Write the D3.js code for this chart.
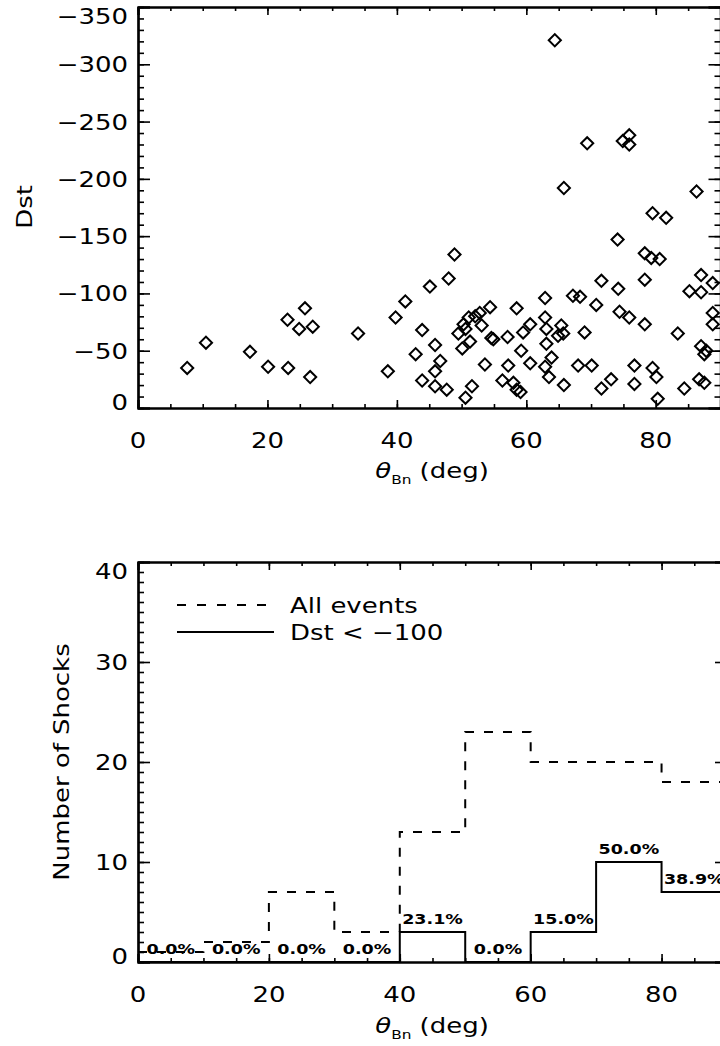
<!DOCTYPE html>
<html>
<head>
<meta charset="utf-8">
<script src="https://cdn.jsdelivr.net/npm/d3@7"></script>
<style>
  body { margin: 0; background: white; }
  svg { display: block; background: white; }
</style>
</head>
<body>
<svg id="chart"></svg>
<script>
// shock angle vs Dst
const thetaBn = [
    7.6, 10.5, 17.3, 20.1, 23.2, 23.1, 25.8, 24.9, 27.0, 26.6,
    34.0, 38.6, 39.8, 41.3, 43.9, 42.9, 45.1, 48.0, 48.9, 45.9,
    46.7, 45.9, 43.9, 45.9, 47.7, 49.5, 50.6, 51.6, 50.1, 51.3,
    50.3, 50.6, 51.1, 52.1, 52.8, 53.1, 54.4, 54.6, 54.9, 57.1,
    58.5, 59.5, 59.2, 53.6, 57.2, 56.3, 58.0, 58.5, 59.1, 64.4,
    69.4, 65.8, 60.6, 60.6, 62.9, 62.9, 63.1, 65.4, 64.9, 65.7,
    63.1, 63.9, 62.9, 63.5, 65.8, 67.2, 68.3, 69.0, 68.0, 74.9,
    75.9, 75.9, 79.5, 74.1, 78.3, 79.3, 71.6, 78.3, 74.2, 70.8,
    70.1, 74.4, 75.9, 78.3, 73.1, 71.6, 76.7, 79.5, 76.7, 80.6,
    81.6, 86.3, 87.0, 88.8, 85.2, 87.0, 80.3, 80.1, 83.4, 84.4,
    86.7, 87.5, 87.0, 87.5, 87.8, 88.8, 88.8
];
const dstValues = [
    -35, -57, -49, -36, -35, -77, -87, -69, -71, -27,
    -65, -32, -79, -93, -68, -47, -106, -113, -134, -55,
    -41, -32, -24, -19, -16, -65, -9, -19, -52, -58,
    -73, -69, -79, -80, -83, -72, -88, -61, -60, -62,
    -87, -66, -50, -38, -37, -24, -22, -16, -14, -321,
    -231, -192, -73, -39, -96, -79, -69, -72, -63, -65,
    -56, -44, -36, -27, -20, -98, -97, -66, -37, -233,
    -238, -230, -170, -147, -135, -131, -111, -112, -104, -90,
    -37, -84, -79, -73, -25, -17, -37, -35, -21, -130,
    -166, -189, -116, -109, -102, -101, -8, -27, -65, -17,
    -25, -22, -54, -47, -50, -83, -73
];

// histogram (10 deg bins)
const binStarts = [0, 10, 20, 30, 40, 50, 60, 70, 80];
const allEvents = [1, 2, 7, 3, 13, 23, 20, 20, 18];
const strongEvents = [0, 0, 0, 0, 3, 0, 3, 10, 7];

const xMajor = [0, 20, 40, 60, 80];
const xMinor = d3.range(0, 91, 5);
const dstMajor = [0, -50, -100, -150, -200, -250, -300, -350];
const dstMinor = d3.range(0, -351, -10);
const countMajor = [0, 10, 20, 30, 40];
const countMinor = d3.range(0, 41, 1);

const width = 720;
const height = 1046;
const FONT = "'DejaVu Sans', sans-serif";
const SX = 1.18; // wide hershey-like lettering

const svg = d3.select("#chart")
    .attr("width", width)
    .attr("height", height);

// text helper: stretched horizontally like the original fonts
function addText(g, x, y, str, opts = {}) {
    const rot = opts.rotate ? ` rotate(${opts.rotate})` : "";
    const t = g.append("text")
        .attr("transform", `translate(${x},${y})${rot} scale(${opts.sx || SX},1)`)
        .attr("text-anchor", opts.anchor || "start")
        .style("font-family", FONT)
        .style("font-size", (opts.size || 22) + "px")
        .style("font-weight", opts.weight || "normal")
        .style("fill", "#000");
    if (opts.dy) t.attr("dy", opts.dy);
    t.text(str);
    return t;
}

// theta_Bn (deg) axis title
function xTitle(g, cx, y) {
    const t = g.append("text")
        .attr("transform", `translate(${cx},${y}) scale(${SX},1)`)
        .attr("text-anchor", "middle")
        .style("font-family", FONT)
        .style("font-size", "22px")
        .style("fill", "#000");
    t.append("tspan").style("font-style", "italic").text("θ");
    t.append("tspan").attr("dy", 6).style("font-size", "13px").text("Bn");
    t.append("tspan").attr("dy", -6).text(" (deg)");
}

// box with major/minor ticks on all four sides
function drawFrame(g, x, y, yMajor, yMinor) {
    const [x0, x1] = x.range();
    const [y0, y1] = y.range(); // y0 bottom, y1 top
    const xLen = 8, yLen = 12;

    const parts = [
        [d3.axisBottom(x), `translate(0,${y0})`, xMajor, xMinor, xLen],
        [d3.axisTop(x), `translate(0,${y1})`, xMajor, xMinor, xLen],
        [d3.axisLeft(y), `translate(${x0},0)`, yMajor, yMinor, yLen],
        [d3.axisRight(y), `translate(${x1},0)`, yMajor, yMinor, yLen]
    ];

    parts.forEach(([axis, tr, major, minor, len]) => {
        const minorG = g.append("g").attr("transform", tr);
        axis.tickValues(minor).tickSize(-len / 2).tickSizeOuter(0).tickFormat("");
        minorG.call(axis);

        const majorG = g.append("g").attr("transform", tr);
        axis.tickValues(major).tickSize(-len);
        majorG.call(axis);

        [minorG, majorG].forEach(a => {
            a.select(".domain").attr("stroke", "#000").attr("stroke-width", 2.2);
            a.selectAll(".tick line").attr("stroke", "#000").attr("stroke-width", 1.6);
        });
    });

    // tick labels
    xMajor.forEach(v => {
        addText(g, x(v), y0 + 40, String(v), { anchor: "middle" });
    });
    yMajor.forEach(v => {
        const cy = Math.min(Math.max(y(v), y1 + 9), y0 - 6);
        addText(g, 128, cy, d3.format("d")(v), { anchor: "end", dy: "0.36em" });
    });
}

// ---------- top panel: scatter ----------
const xTop = d3.scaleLinear().domain([0, 90]).range([138, 720.5]);
const yTop = d3.scaleLinear().domain([0, -350]).range([408, 7]);

const topG = svg.append("g");
drawFrame(topG, xTop, yTop, dstMajor, dstMinor);

const diamond = d3.symbol().type(d3.symbolSquare).size(74);

topG.selectAll("path.pt")
    .data(d3.range(thetaBn.length))
    .enter()
    .append("path")
    .attr("class", "pt")
    .attr("d", diamond)
    .attr("transform", i => `translate(${xTop(thetaBn[i])},${yTop(dstValues[i])}) rotate(45)`)
    .attr("fill", "none")
    .attr("stroke", "#000")
    .attr("stroke-width", 2);

addText(topG, 24, 207, "Dst", { anchor: "middle", rotate: -90, dy: "0.36em" });
xTitle(topG, 432, 478);

// ---------- bottom panel: histogram ----------
const xBot = d3.scaleLinear().domain([0, 90]).range([138, 727]);
const yBot = d3.scaleLinear().domain([0, 40]).range([962, 562]);

const botG = svg.append("g");
drawFrame(botG, xBot, yBot, countMajor, countMinor);

const step = d3.line()
    .x(d => xBot(d[0]))
    .y(d => yBot(d[1]))
    .curve(d3.curveStepAfter);

const allPts = binStarts.map((b, i) => [b, allEvents[i]]);
allPts.push([90, allEvents[allEvents.length - 1]]);
const strongPts = binStarts.map((b, i) => [b, strongEvents[i]]);
strongPts.push([90, strongEvents[strongEvents.length - 1]]);

botG.append("path")
    .attr("d", step(allPts))
    .attr("fill", "none")
    .attr("stroke", "#000")
    .attr("stroke-width", 2)
    .attr("stroke-dasharray", "9,10");

botG.append("path")
    .attr("d", step(strongPts))
    .attr("fill", "none")
    .attr("stroke", "#000")
    .attr("stroke-width", 2);

// percentage of strong storms per bin
binStarts.forEach((b, i) => {
    const pct = (strongEvents[i] / allEvents[i] * 100).toFixed(1) + "%";
    addText(botG, xBot(b + 5), yBot(strongEvents[i]) - 8, pct,
        { anchor: "middle", size: 14, weight: "bold", sx: 1.25 });
});

// legend
botG.append("line")
    .attr("x1", 177).attr("x2", 274).attr("y1", 605).attr("y2", 605)
    .attr("stroke", "#000").attr("stroke-width", 2)
    .attr("stroke-dasharray", "9,11");
botG.append("line")
    .attr("x1", 177).attr("x2", 274).attr("y1", 632).attr("y2", 632)
    .attr("stroke", "#000").attr("stroke-width", 2);
addText(botG, 290, 613, "All events");
addText(botG, 290, 640, "Dst < −100");

addText(botG, 61, 762, "Number of Shocks", { anchor: "middle", rotate: -90, dy: "0.36em" });
xTitle(botG, 432, 1033);
</script>
</body>
</html>
